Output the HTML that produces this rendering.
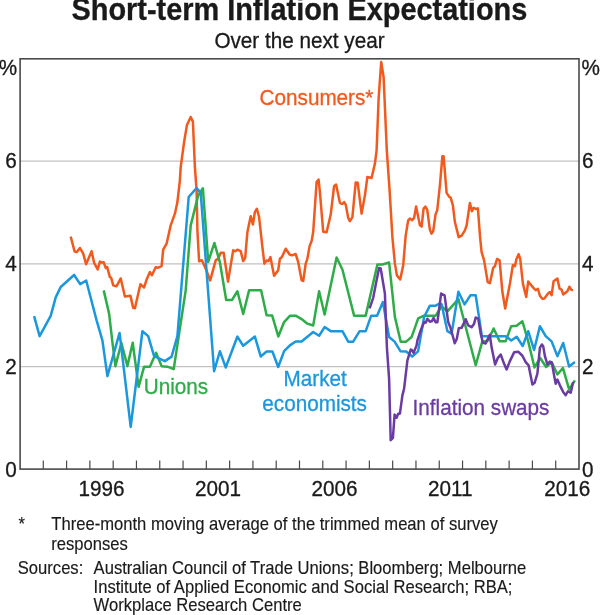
<!DOCTYPE html>
<html><head><meta charset="utf-8">
<style>
html,body{margin:0;padding:0;background:#fff;}
body{width:600px;height:615px;overflow:hidden;font-family:"Liberation Sans",sans-serif;}
svg{display:block}
text{font-family:"Liberation Sans",sans-serif;fill:#1a1a1a;stroke:#1a1a1a;stroke-width:0.3px;}
.fn text{stroke-width:0.15px}
</style></head><body>
<svg width="600" height="615" viewBox="0 0 600 615">
<rect width="600" height="615" fill="#fff"/>
<text x="299.4" y="0" transform="translate(0,20.45) scale(1,1.07)" text-anchor="middle" font-size="28.9" font-weight="bold">Short-term Inflation Expectations</text>
<text x="299.5" y="0" transform="translate(0,47.95) scale(1,1.07)" text-anchor="middle" font-size="20.7">Over the next year</text>
<g stroke="#c2c2c2" stroke-width="1.25">
<line x1="20" x2="579" y1="161.05" y2="161.05"/>
<line x1="20" x2="579" y1="263.9" y2="263.9"/>
<line x1="20" x2="579" y1="366.5" y2="366.5"/>
</g>
<g transform="translate(-0.1,0.35)">
<polyline fill="none" stroke="#f15a1e" stroke-width="2.5" stroke-linejoin="round" stroke-linecap="butt" points="70.8,236.3 74.7,251.2 76.7,251.8 80.0,247.6 83.3,253.3 86.2,263.8 91.7,250.9 94.2,262.5 97.8,269.1 100.0,261.3 102.0,262.3 103.8,261.9 105.8,267.6 107.2,266.6 110.0,276.7 111.3,277.5 113.3,285.0 115.8,285.8 116.7,285.8 120.8,278.1 125.0,296.1 130.5,295.3 133.3,307.5 135.0,307.9 140.5,283.9 144.2,287.1 146.7,279.2 150.0,271.7 152.0,274.9 155.8,266.9 158.3,267.3 161.7,265.8 163.3,249.2 166.7,243.3 170.8,225.0 175.0,213.3 177.5,201.7 180.0,180.0 180.8,166.7 184.2,141.7 187.0,125.0 190.8,116.7 193.0,121.3 195.0,166.7 196.7,190.0 197.5,230.0 199.2,260.9 202.0,259.9 205.8,268.3 210.3,280.1 215.8,260.0 218.3,258.3 220.8,252.5 223.8,252.5 228.1,281.3 233.3,249.9 235.3,250.9 237.5,249.3 240.8,250.8 243.3,260.8 245.3,257.5 247.5,231.7 250.8,215.9 253.0,224.1 255.0,211.7 257.0,208.4 259.2,216.7 262.5,246.7 264.5,263.3 266.7,260.2 268.7,260.6 270.5,256.7 274.2,275.4 278.3,270.0 280.0,258.3 282.0,256.7 285.8,248.4 289.7,254.2 292.0,255.0 295.8,253.7 298.3,261.7 301.7,280.0 303.3,280.6 305.8,263.3 307.5,258.3 309.7,245.8 311.7,240.8 313.3,231.7 316.7,181.7 318.7,179.2 320.0,191.7 323.3,231.3 326.7,231.9 330.8,214.2 334.2,185.8 336.2,184.1 340.0,202.5 342.5,203.7 344.2,201.7 345.8,204.2 348.3,217.5 350.0,220.8 352.5,216.7 355.8,182.2 357.8,182.5 361.7,213.3 365.0,195.0 367.5,176.6 371.7,177.6 375.0,163.3 376.7,150.0 378.8,96.7 381.3,61.7 383.7,76.7 386.9,150.0 389.7,190.0 392.5,236.7 395.0,263.3 397.0,275.0 400.3,279.1 403.3,265.0 405.8,235.0 408.3,220.0 410.0,218.2 412.2,219.9 414.2,217.5 416.2,206.2 420.0,225.0 421.7,226.2 423.7,208.3 425.5,206.3 427.3,209.2 430.0,229.5 431.7,233.3 433.3,230.8 435.6,214.2 437.3,210.0 440.0,185.0 442.5,155.8 443.7,155.8 446.7,192.5 449.2,196.3 450.8,197.5 453.0,205.0 455.0,221.7 458.8,236.8 461.7,235.3 465.0,230.0 466.7,225.0 470.0,202.6 472.0,210.8 473.7,207.4 475.8,208.7 478.0,208.0 480.2,237.0 481.7,251.7 484.2,260.0 487.8,281.7 490.0,282.8 493.3,267.5 495.0,265.8 497.2,258.6 499.7,260.0 502.5,291.7 505.3,308.1 510.0,283.3 513.0,264.6 515.0,265.8 516.7,258.3 518.7,253.9 520.3,258.3 523.0,283.3 526.3,296.6 528.3,281.2 533.3,287.3 535.8,289.9 538.0,288.4 540.0,295.4 542.4,298.4 544.5,298.2 548.3,293.0 550.0,291.6 551.7,294.9 553.7,280.8 557.5,278.1 559.7,288.3 561.7,289.2 563.3,294.1 567.5,290.8 569.5,286.4 571.2,289.2 573.0,290.0"/>
<polyline fill="none" stroke="#2fac49" stroke-width="2.5" stroke-linejoin="round" stroke-linecap="butt" points="103.8,290.0 109.2,313.3 112.5,341.7 115.5,365.8 121.5,342.6 127.5,365.8 132.8,342.4 138.7,386.6 144.2,366.3 150.0,366.3 156.2,352.4 161.7,365.8 167.5,366.3 173.8,368.8 185.8,290.0 190.8,225.0 198.3,195.0 203.0,187.9 208.3,261.6 214.5,242.6 220.0,262.0 226.3,299.7 232.0,299.7 237.5,290.9 243.3,313.6 249.2,290.0 261.2,290.0 266.7,314.8 272.3,315.2 278.4,336.1 284.2,321.7 290.0,315.5 295.8,315.3 301.7,318.7 307.5,323.3 313.3,325.1 319.2,290.9 324.7,314.1 336.7,257.2 342.5,269.2 354.2,315.3 365.8,315.3 377.5,264.2 382.5,264.2 389.2,262.2 395.0,316.7 400.8,341.3 406.3,341.3 411.7,336.7 418.3,318.0 424.2,315.3 435.8,315.3 441.7,305.9 447.5,311.1 458.5,298.7 475.8,364.9 482.2,341.7 488.3,340.0 493.7,328.1 499.7,340.8 505.8,340.8 511.3,325.8 516.7,325.5 522.5,320.9 528.3,341.0 534.6,367.1 540.3,357.6 546.2,366.6 551.7,361.7 557.5,374.1 563.0,367.6 569.2,389.1 575.0,380.0"/>
<polyline fill="none" stroke="#1b97dd" stroke-width="2.5" stroke-linejoin="round" stroke-linecap="butt" points="34.2,315.8 39.7,335.8 50.8,315.5 55.8,297.0 60.8,286.7 74.2,274.6 80.3,283.8 86.3,280.1 96.7,320.0 102.5,340.0 107.5,375.8 119.7,332.6 130.8,426.6 142.5,330.9 148.3,335.8 154.2,355.8 165.0,360.8 171.7,356.3 177.5,335.8 188.8,196.7 196.7,187.6 200.8,192.5 214.2,370.8 220.0,350.9 225.8,367.1 237.5,336.2 243.3,345.4 255.0,336.2 260.8,356.1 266.7,351.2 272.5,351.2 278.3,366.6 284.2,350.8 290.0,345.0 295.8,341.1 301.7,341.2 313.3,331.7 319.2,335.4 324.7,326.7 330.8,330.8 342.5,330.8 348.3,341.3 353.3,341.3 359.7,330.8 365.8,330.8 371.3,315.3 377.2,315.3 383.0,301.7 389.2,336.7 394.7,341.3 400.5,350.8 406.3,351.2 412.3,356.1 418.2,351.0 424.2,316.7 430.0,305.3 435.8,305.3 440.0,302.9 441.7,304.0 447.5,330.8 451.7,333.3 458.5,291.4 464.7,304.1 470.5,295.0 475.8,295.0 482.0,335.8 505.8,335.8 511.3,340.1 516.8,336.4 522.8,345.6 528.3,330.9 534.2,349.6 540.0,325.9 545.8,335.8 551.7,341.0 557.5,355.8 563.3,342.6 569.2,366.1 575.0,361.7"/>
<polyline fill="none" stroke="#6a3ca2" stroke-width="2.5" stroke-linejoin="round" stroke-linecap="butt" points="369.7,308.0 373.3,297.5 376.7,280.0 379.2,267.7 380.8,268.2 385.0,293.3 387.0,347.0 389.2,378.3 390.8,439.9 393.0,437.5 394.7,414.2 396.7,417.4 398.3,413.3 400.0,413.3 402.5,395.0 404.2,388.3 407.5,360.0 410.8,349.3 412.0,349.7 413.7,352.4 416.7,345.0 417.5,340.0 420.8,330.0 424.2,321.9 425.8,322.3 427.5,318.4 430.0,321.4 432.0,320.8 433.7,317.6 435.8,322.0 437.5,322.0 441.2,293.2 444.7,295.0 448.3,321.7 450.8,328.0 454.8,342.9 456.9,338.5 458.9,328.0 461.7,327.5 465.8,318.9 468.3,325.0 471.7,326.8 474.2,323.3 475.8,317.2 478.3,318.3 480.8,333.3 483.0,342.5 485.8,343.1 489.9,334.5 491.7,347.0 495.2,364.1 498.0,357.5 500.8,354.2 504.2,363.5 506.7,369.1 510.0,360.8 514.2,352.0 518.3,351.3 522.5,355.4 525.8,361.7 528.7,365.0 532.5,384.2 534.7,382.5 537.5,373.3 540.0,347.5 542.0,344.1 543.3,345.8 545.0,355.8 547.5,364.1 550.0,361.3 552.0,362.5 554.2,375.0 555.8,383.3 557.5,379.2 560.0,385.0 563.3,391.7 565.8,394.9 568.0,390.9 570.8,392.4 573.3,381.7"/>
</g>
<rect x="20.1" y="58.8" width="558.9" height="410.3" fill="none" stroke="#4a4a4a" stroke-width="1.6"/>
<g stroke="#4a4a4a" stroke-width="1.2"><line x1="43.29" x2="43.29" y1="469" y2="460.5"/><line x1="66.58" x2="66.58" y1="469" y2="460.5"/><line x1="89.88" x2="89.88" y1="469" y2="460.5"/><line x1="113.17" x2="113.17" y1="469" y2="460.5"/><line x1="136.46" x2="136.46" y1="469" y2="460.5"/><line x1="159.75" x2="159.75" y1="469" y2="460.5"/><line x1="183.04" x2="183.04" y1="469" y2="460.5"/><line x1="206.33" x2="206.33" y1="469" y2="460.5"/><line x1="229.62" x2="229.62" y1="469" y2="460.5"/><line x1="252.92" x2="252.92" y1="469" y2="460.5"/><line x1="276.21" x2="276.21" y1="469" y2="460.5"/><line x1="299.50" x2="299.50" y1="469" y2="460.5"/><line x1="322.79" x2="322.79" y1="469" y2="460.5"/><line x1="346.08" x2="346.08" y1="469" y2="460.5"/><line x1="369.38" x2="369.38" y1="469" y2="460.5"/><line x1="392.67" x2="392.67" y1="469" y2="460.5"/><line x1="415.96" x2="415.96" y1="469" y2="460.5"/><line x1="439.25" x2="439.25" y1="469" y2="460.5"/><line x1="462.54" x2="462.54" y1="469" y2="460.5"/><line x1="485.83" x2="485.83" y1="469" y2="460.5"/><line x1="509.12" x2="509.12" y1="469" y2="460.5"/><line x1="532.42" x2="532.42" y1="469" y2="460.5"/><line x1="555.71" x2="555.71" y1="469" y2="460.5"/></g>
<g font-size="20.7">
<text x="-1.2" y="0" transform="translate(0,74.75) scale(1,1.07)">%</text><text x="581.6" y="0" transform="translate(0,74.75) scale(1,1.07)">%</text>
<text x="16.7" y="0" transform="translate(0,168.45) scale(1,1.07)" text-anchor="end">6</text><text x="582" y="0" transform="translate(0,168.45) scale(1,1.07)">6</text>
<text x="16.7" y="0" transform="translate(0,270.75) scale(1,1.07)" text-anchor="end">4</text><text x="582" y="0" transform="translate(0,270.75) scale(1,1.07)">4</text>
<text x="16.7" y="0" transform="translate(0,373.85) scale(1,1.07)" text-anchor="end">2</text><text x="582" y="0" transform="translate(0,373.85) scale(1,1.07)">2</text>
<text x="16.7" y="0" transform="translate(0,476.95) scale(1,1.07)" text-anchor="end">0</text><text x="582" y="0" transform="translate(0,476.95) scale(1,1.07)">0</text>
<text x="101.5" y="0" transform="translate(0,496.45) scale(1,1.07)" text-anchor="middle">1996</text>
<text x="218" y="0" transform="translate(0,496.45) scale(1,1.07)" text-anchor="middle">2001</text>
<text x="334.5" y="0" transform="translate(0,496.45) scale(1,1.07)" text-anchor="middle">2006</text>
<text x="450.3" y="0" transform="translate(0,496.45) scale(1,1.07)" text-anchor="middle">2011</text>
<text x="567.3" y="0" transform="translate(0,496.45) scale(1,1.07)" text-anchor="middle">2016</text>
</g>
<g font-size="20.7">
<text x="259.6" y="0" transform="translate(0,105.45) scale(1,1.07)" style="fill:#f15a1e;stroke:#f15a1e">Consumers*</text>
<text x="143.8" y="0" transform="translate(0,394.05) scale(1,1.07)" style="fill:#2fac49;stroke:#2fac49">Unions</text>
<text x="315.2" y="0" transform="translate(0,386.15) scale(1,1.07)" text-anchor="middle" style="fill:#1b97dd;stroke:#1b97dd">Market</text>
<text x="314.6" y="0" transform="translate(0,410.65) scale(1,1.07)" text-anchor="middle" style="fill:#1b97dd;stroke:#1b97dd">economists</text>
<text x="412.6" y="0" transform="translate(0,414.65) scale(1,1.07)" style="fill:#6a3ca2;stroke:#6a3ca2">Inflation swaps</text>
</g>
<g font-size="16.6" class="fn">
<text x="18.5" y="0" transform="translate(0,530.45) scale(1,1.07)">*</text>
<text x="51.3" y="0" transform="translate(0,530.25) scale(1,1.07)">Three-month moving average of the trimmed mean of survey</text>
<text x="51.3" y="0" transform="translate(0,549.85) scale(1,1.07)">responses</text>
<text x="17.8" y="0" transform="translate(0,574.25) scale(1,1.07)">Sources:</text>
<text x="93.6" y="0" transform="translate(0,574.25) scale(1,1.07)">Australian Council of Trade Unions; Bloomberg; Melbourne</text>
<text x="93.6" y="0" transform="translate(0,592.75) scale(1,1.07)">Institute of Applied Economic and Social Research; RBA;</text>
<text x="93.6" y="0" transform="translate(0,611.15) scale(1,1.07)">Workplace Research Centre</text>
</g>
</svg>
</body></html>
